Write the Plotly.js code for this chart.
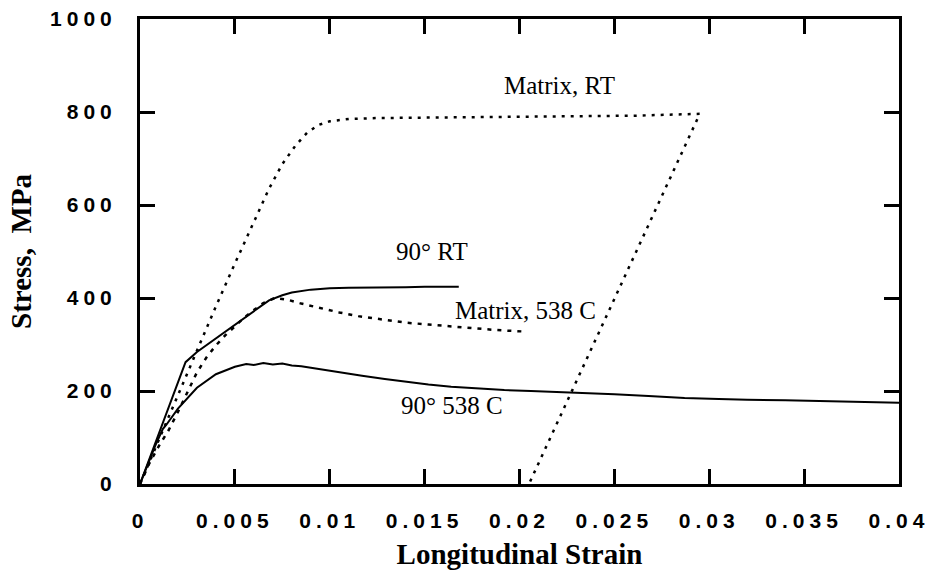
<!DOCTYPE html>
<html>
<head>
<meta charset="utf-8">
<script src="https://cdn.plot.ly/plotly-3.0.1.min.js"></script>
<style>
  html, body { margin: 0; padding: 0; background: #fff; }
  #chart { width: 928px; height: 573px; }
  .xtick text, .ytick text { letter-spacing: 5px; }
</style>
</head>
<body>
<div id="chart"></div>
<script>
// ---- Data ----
// Matrix, RT (dotted): loading, plastic plateau, then unloading
const matrixRTStrain = [0, 0.0005, 0.001, 0.002, 0.003, 0.004, 0.005, 0.006, 0.0068, 0.0075, 0.0082, 0.0088, 0.0094, 0.0100, 0.0110, 0.0125, 0.0145, 0.0170, 0.0200, 0.0230, 0.0260, 0.0285, 0.0295, 0.0205];
const matrixRTStress = [0, 48, 96, 192, 288, 382, 474, 562, 635, 688, 728, 755, 772, 780, 785, 787, 788, 789, 790, 791, 792, 794, 796, 0];

// Matrix, 538 C (dotted)
const matrix538Strain = [0, 0.0005, 0.001, 0.0015, 0.002, 0.0025, 0.003, 0.0035, 0.004, 0.0045, 0.005, 0.0055, 0.006, 0.0065, 0.0071, 0.0078, 0.0085, 0.0095, 0.0105, 0.0115, 0.0129, 0.0140, 0.0152, 0.0164, 0.0176, 0.0188, 0.0202];
const matrix538Stress = [0, 45, 82, 115, 155, 198, 240, 272, 298, 320, 340, 358, 374, 389, 400, 396, 388, 378, 369, 361, 353, 347, 343, 339, 335, 331, 328];

// 90° RT (solid)
const t90RTStrain = [0, 0.0005, 0.001, 0.0015, 0.002, 0.0024, 0.003, 0.004, 0.005, 0.006, 0.0068, 0.0075, 0.008, 0.009, 0.010, 0.011, 0.012, 0.013, 0.014, 0.015, 0.016, 0.0168];
const t90RTStress = [0, 55, 110, 165, 218, 262, 284, 313, 343, 372, 395, 406, 412, 418, 421, 422, 422, 423, 423, 424, 424, 424];

// 90° 538 C (solid)
const t90538Strain = [0, 0.0004, 0.0008, 0.0012, 0.0014, 0.002, 0.003, 0.004, 0.005, 0.0056, 0.006, 0.0065, 0.007, 0.0075, 0.008, 0.0085, 0.0094, 0.0105, 0.0117, 0.0129, 0.0140, 0.0152, 0.0164, 0.0178, 0.0192, 0.0206, 0.0220, 0.0235, 0.0250, 0.0268, 0.0287, 0.0305, 0.0320, 0.0340, 0.0360, 0.0380, 0.0400];
const t90538Stress = [0, 42, 82, 118, 128, 162, 207, 236, 252, 258, 256, 260, 257, 259, 255, 253, 247, 240, 233, 226, 220, 214, 209, 205, 202, 200, 198, 195, 193, 189, 185, 183, 181, 180, 178, 177, 175];

// Axis ticks
const xTicks = [0, 0.005, 0.01, 0.015, 0.02, 0.025, 0.03, 0.035, 0.04];
const xTickLabels = ["0", "0.005", "0.01", "0.015", "0.02", "0.025", "0.03", "0.035", "0.04"];
const yTicks = [0, 200, 400, 600, 800, 1000];
const yTickLabels = ["0", "200", "400", "600", "800", "1000"];

// Curve labels
const labelText = ["Matrix, RT", "90° RT", "Matrix, 538 C", "90° 538 C"];
const labelX = [0.0221, 0.01537, 0.0203, 0.01643];
const labelY = [858, 499, 374, 169];

// ---- Chart ----
const dotted = {color: "#000", width: 2.5, dash: "3px,6px"};
const solid = {color: "#000", width: 2};

const traces = [
  {x: matrixRTStrain, y: matrixRTStress, mode: "lines", line: dotted, name: "Matrix, RT"},
  {x: matrix538Strain, y: matrix538Stress, mode: "lines", line: {color: "#000", width: 2.5, dash: "4px,6px"}, name: "Matrix, 538 C"},
  {x: t90RTStrain, y: t90RTStress, mode: "lines", line: solid, name: "90° RT"},
  {x: t90538Strain, y: t90538Stress, mode: "lines", line: solid, name: "90° 538 C"}
];

const annotations = labelText.map((t, i) => ({
  x: labelX[i], y: labelY[i], xref: "x", yref: "y",
  text: t, showarrow: false,
  font: {family: "Liberation Serif, Times New Roman, serif", size: 25, color: "#000"}
}));

const tickFont = {family: "Liberation Sans, Arial, sans-serif", size: 21, color: "#000", weight: "bold"};
const titleFont = {family: "Liberation Serif, Times New Roman, serif", size: 29, color: "#000", weight: "bold"};

const layout = {
  width: 928, height: 573,
  margin: {l: 140, r: 29, t: 19, b: 89},
  paper_bgcolor: "#fff", plot_bgcolor: "#fff",
  showlegend: false,
  xaxis: {
    range: [0, 0.04],
    tickmode: "array", tickvals: xTicks, ticktext: xTickLabels,
    ticks: "inside", ticklen: 15, tickwidth: 3, tickcolor: "#000",
    showline: true, linewidth: 3, linecolor: "#000", mirror: "ticks",
    showgrid: false, zeroline: false,
    tickfont: tickFont, ticklabelstandoff: 16, ticklabeloverflow: "allow",
    title: {text: "Longitudinal Strain", font: titleFont, standoff: 13}
  },
  yaxis: {
    range: [0, 1000],
    tickmode: "array", tickvals: yTicks, ticktext: yTickLabels,
    ticks: "inside", ticklen: 15, tickwidth: 3, tickcolor: "#000",
    showline: true, linewidth: 3, linecolor: "#000", mirror: "ticks",
    showgrid: false, zeroline: false,
    tickfont: tickFont, ticklabelstandoff: 16, ticklabeloverflow: "allow",
    title: {text: "Stress,\u00a0 MPa", font: titleFont, standoff: 10}
  },
  annotations: annotations
};

Plotly.newPlot("chart", traces, layout, {displayModeBar: false, staticPlot: true});
</script>
</body>
</html>
